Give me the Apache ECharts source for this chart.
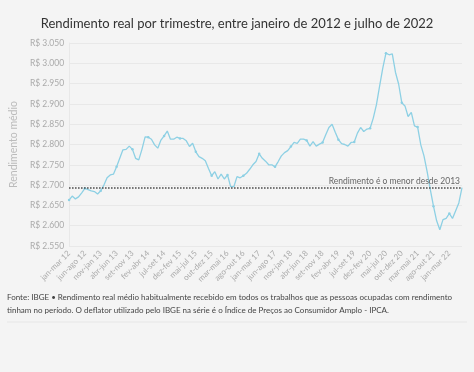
<!DOCTYPE html>
<html><head><meta charset="utf-8">
<script src="https://cdn.jsdelivr.net/npm/echarts@6/dist/echarts.min.js"></script>
<style>html,body{margin:0;padding:0;background:#f4f4f4;}#c{width:474px;height:372px;}</style>
</head><body><div id="c"></div>
<script>
const titleText = 'Rendimento real por trimestre, entre janeiro de 2012 e julho de 2022';
const yAxisName = 'Rendimento médio';
const footerLines = [
  'Fonte: IBGE \u2022 Rendimento real médio habitualmente recebido em todos os trabalhos que as pessoas ocupadas com rendimento',
  'tinham no período. O deflator utilizado pelo IBGE na série é o Índice de Preços ao Consumidor Amplo - IPCA.'
];
const refLabel = 'Rendimento é o menor desde 2013';
const refValue = 2693;

const categories = [
 'jan-mar 12','fev-abr 12','mar-mai 12','abr-jun 12','mai-jul 12','jun-ago 12','jul-set 12','ago-out 12','set-nov 12','out-dez 12','nov-jan 13','dez-fev 13',
 'jan-mar 13','fev-abr 13','mar-mai 13','abr-jun 13','mai-jul 13','jun-ago 13','jul-set 13','ago-out 13','set-nov 13','out-dez 13','nov-jan 14','dez-fev 14',
 'jan-mar 14','fev-abr 14','mar-mai 14','abr-jun 14','mai-jul 14','jun-ago 14','jul-set 14','ago-out 14','set-nov 14','out-dez 14','nov-jan 15','dez-fev 15',
 'jan-mar 15','fev-abr 15','mar-mai 15','abr-jun 15','mai-jul 15','jun-ago 15','jul-set 15','ago-out 15','set-nov 15','out-dez 15','nov-jan 16','dez-fev 16',
 'jan-mar 16','fev-abr 16','mar-mai 16','abr-jun 16','mai-jul 16','jun-ago 16','jul-set 16','ago-out 16','set-nov 16','out-dez 16','nov-jan 17','dez-fev 17',
 'jan-mar 17','fev-abr 17','mar-mai 17','abr-jun 17','mai-jul 17','jun-ago 17','jul-set 17','ago-out 17','set-nov 17','out-dez 17','nov-jan 18','dez-fev 18',
 'jan-mar 18','fev-abr 18','mar-mai 18','abr-jun 18','mai-jul 18','jun-ago 18','jul-set 18','ago-out 18','set-nov 18','out-dez 18','nov-jan 19','dez-fev 19',
 'jan-mar 19','fev-abr 19','mar-mai 19','abr-jun 19','mai-jul 19','jun-ago 19','jul-set 19','ago-out 19','set-nov 19','out-dez 19','nov-jan 20','dez-fev 20',
 'jan-mar 20','fev-abr 20','mar-mai 20','abr-jun 20','mai-jul 20','jun-ago 20','jul-set 20','ago-out 20','set-nov 20','out-dez 20','nov-jan 21','dez-fev 21',
 'jan-mar 21','fev-abr 21','mar-mai 21','abr-jun 21','mai-jul 21','jun-ago 21','jul-set 21','ago-out 21','set-nov 21','out-dez 21','nov-jan 22','dez-fev 22',
 'jan-mar 22','fev-abr 22','mar-mai 22','abr-jun 22','mai-jul 22'
];

const rendimento = [
 2663,2673,2666,2671,2681,2692,2689,2686,2684,2678,2686,2700,
 2718,2725,2727,2745,2766,2787,2788,2796,2788,2766,2762,2788,
 2819,2818,2813,2799,2791,2811,2821,2833,2813,2813,2818,2815,
 2815,2809,2795,2803,2782,2770,2766,2760,2741,2723,2733,2715,
 2727,2715,2725,2696,2696,2721,2718,2723,2729,2739,2750,2758,
 2777,2766,2759,2750,2750,2745,2758,2772,2780,2785,2795,2805,
 2803,2813,2813,2810,2796,2807,2796,2801,2805,2824,2842,2850,
 2830,2812,2802,2800,2796,2805,2806,2828,2842,2832,2838,2840,
 2865,2898,2944,2988,3025,3021,3023,2978,2949,2903,2895,2869,
 2879,2846,2843,2799,2772,2733,2689,2648,2612,2590,2615,2618,
 2630,2618,2637,2656,2694
];

const yMin = 2550, yMax = 3050, yStep = 50;
const FONT = 'Lato, "Open Sans", sans-serif';

const chart = echarts.init(document.getElementById('c'), null, {renderer: 'canvas'});
chart.setOption({
  backgroundColor: '#f4f4f4',
  animation: false,
  title: {
    text: titleText, left: 'center', top: 12,
    textStyle: {fontFamily: FONT, fontSize: 13, fontWeight: 'normal', color: '#333'}
  },
  grid: {left: 63, right: 12, top: 43, bottom: 126, containLabel: false},
  xAxis: {
    type: 'category', data: categories, boundaryGap: false,
    axisLine: {show: false}, axisTick: {show: false},
    splitLine: {show: false},
    axisLabel: {interval: 4, rotate: 45, margin: 6, fontFamily: FONT, fontSize: 8, color: '#aaa'}
  },
  yAxis: {
    type: 'value', min: yMin, max: yMax, interval: yStep,
    name: yAxisName, nameLocation: 'middle', nameGap: 35,
    nameTextStyle: {fontFamily: FONT, fontSize: 10.5, color: '#bbb'},
    axisLine: {show: true, lineStyle: {color: '#e8e8e8'}}, axisTick: {show: false},
    splitLine: {lineStyle: {color: '#e8e8e8', width: 1}},
    axisLabel: {margin: 5, fontFamily: FONT, fontSize: 8.5, color: '#aaa',
      formatter: v => 'R$ ' + String(v).replace(/^(\d)(\d{3})$/, '$1.$2')}
  },
  series: [{
    type: 'line', data: rendimento,
    symbol: 'circle', symbolSize: 2.5, showSymbol: true,
    itemStyle: {color: '#8dd0e4'},
    lineStyle: {color: '#8dd0e4', width: 1.3},
    markLine: {
      silent: true, symbol: 'none',
      lineStyle: {color: '#444', type: [1.5, 1.5], width: 1.5},
      label: {show: true, position: 'insideEndTop', formatter: refLabel,
        fontFamily: FONT, fontSize: 8.5, color: '#666', distance: [2, 2]},
      data: [{yAxis: refValue}]
    }
  }],
  graphic: [
    {type: 'text', left: 7, top: 293, style: {text: footerLines[0], font: '8px ' + FONT, fill: '#444'}},
    {type: 'text', left: 7, top: 306, style: {text: footerLines[1], font: '8px ' + FONT, fill: '#444'}},
    {type: 'line', shape: {x1: 7, y1: 322, x2: 467, y2: 322}, style: {stroke: '#e6e6e6', lineWidth: 1}}
  ]
});
</script>
</body></html>
